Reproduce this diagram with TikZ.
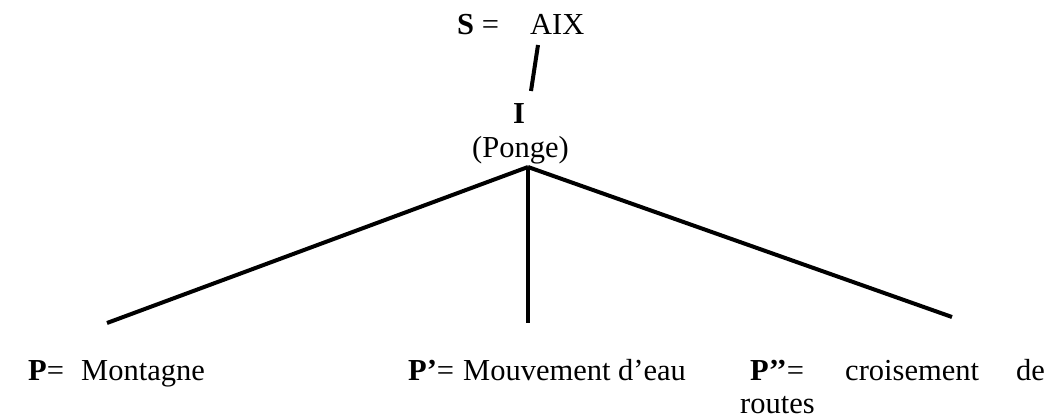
\documentclass[tikz,border=0pt]{standalone}
\usepackage{fontspec}
\setmainfont{Liberation Serif}
\begin{document}
\begin{tikzpicture}[x=1pt,y=-1pt,
  txt/.style={inner sep=0pt, anchor=base west, font=\fontsize{30.5}{33}\selectfont},
  edge/.style={line width=4pt}]
\useasboundingbox (0,0) rectangle (1055,420);
\node[txt] (s) at (457,35) {\textbf{S} =};
\node[txt] (aix) at (530,35) {AIX};
\node[txt] (i) at (513,123) {\textbf{I}};
\node[txt] (ponge) at (472,157) {(Ponge)};
\coordinate (slashtop) at (538,45);
\coordinate (slashbot) at (531,91);
\coordinate (apex) at (528,167);
\coordinate (lend) at (107,323);
\coordinate (mend) at (528,323);
\coordinate (rend) at (952,317);
\draw[edge] (slashtop) -- (slashbot);
\draw[edge] (apex) -- (lend);
\draw[edge] (apex) -- (mend);
\draw[edge] (apex) -- (rend);
\node[txt] (p1) at (28,380) {\textbf{P}=};
\node[txt] (m1) at (81,380) {Montagne};
\node[txt] (p2) at (408,380) {\textbf{P’}=};
\node[txt] (m2) at (463,380) {Mouvement d’eau};
\node[txt] (p3) at (750,380) {\textbf{P’’}=};
\node[txt] (m3) at (845,380) {croisement};
\node[txt] (m4) at (1016,380) {de};
\node[txt] (m5) at (740,413) {routes};
\end{tikzpicture}
\end{document}
